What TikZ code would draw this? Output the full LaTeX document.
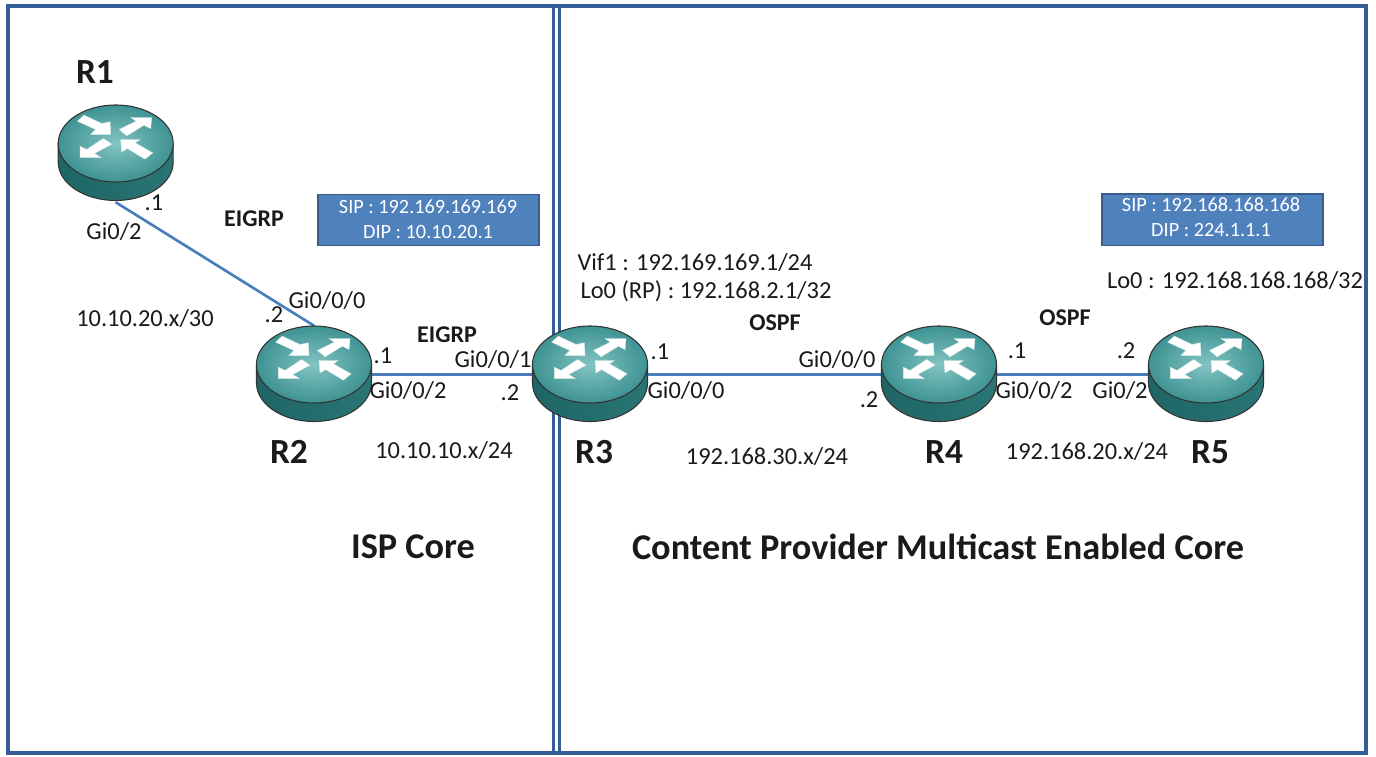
\documentclass[tikz,border=0pt]{standalone}
\usepackage{fontspec}
\setmainfont{Carlito}
\definecolor{framec}{HTML}{335F96}
\definecolor{linkc}{HTML}{4A7EBB}
\definecolor{boxf}{HTML}{4F81BD}
\definecolor{boxd}{HTML}{385D8A}
\definecolor{sidea}{HTML}{1F6565}
\definecolor{sideb}{HTML}{2E8585}
\definecolor{sidec}{HTML}{2A7575}
\definecolor{topa}{HTML}{82C4C2}
\definecolor{topb}{HTML}{3F9393}
\definecolor{txt}{HTML}{1A1A1A}
\tikzset{
  x=0.75pt,y=-0.75pt,
  lbl/.style={inner sep=0pt,font=\fontsize{18.3pt}{21pt}\selectfont,text=txt},
  blbl/.style={inner sep=0pt,font=\fontsize{18pt}{21pt}\selectfont\bfseries,text=txt},
  rname/.style={inner sep=0pt,font=\fontsize{26.5pt}{30pt}\selectfont\bfseries,text=txt},
  title/.style={inner sep=0pt,font=\fontsize{27.2pt}{30pt}\selectfont\bfseries,text=txt},
  infobox/.style={draw=boxd,line width=1pt,fill=boxf,minimum width=165.75pt,minimum height=38.5pt,inner sep=0pt},
  boxtext/.style={inner sep=0pt,font=\fontsize{15.2pt}{18pt}\selectfont,text=white},
  routerbox/.style={minimum width=86.25pt,minimum height=72.75pt,inner sep=0pt},
  link/.style={draw=linkc,line width=2pt},
  routerarrow/.style={fill=white,draw=white!85!teal,line width=0.3pt},
  routericon/.pic={
    \shade[draw=black!80,line width=0.8pt,left color=sidea,middle color=sideb,right color=sidec]
      (-57.5,0) -- (-57.5,18.5) arc[start angle=180,end angle=360,x radius=43.125pt,y radius=28.875pt] -- (57.5,0) -- cycle;
    \shade[draw=black!80,line width=0.8pt,inner color=topa,outer color=topb]
      (0,0) ellipse[x radius=43.125pt,y radius=28.875pt];
    \begin{scope}[shift={(-115.67,-103.33)},x=0.25pt,y=-0.25pt]
      \path[routerarrow] (232,243)--(252,225)--(305,250)--(330,245)--(332,283)--(272,283)--(287,268)--cycle;
      \path[routerarrow] (358,268)--(408,243)--(392,232)--(455,232)--(452,265)--(432,255)--(380,287)--cycle;
      \path[routerarrow] (335,312)--(283,340)--(303,352)--(240,352)--(240,318)--(260,328)--(310,295)--cycle;
      \path[routerarrow] (362,298)--(420,298)--(405,308)--(458,338)--(435,357)--(382,325)--(365,335)--cycle;
    \end{scope}
  }
}
\begin{document}
\begin{tikzpicture}
\useasboundingbox (0,0) rectangle (1376,756);
% frame
\coordinate (fa) at (8,6); \coordinate (fb) at (1366,753);
\draw[framec,line width=2.6pt] (fa) rectangle (fb);
\coordinate (da) at (553.5,6); \coordinate (db) at (553.5,753);
\coordinate (dc) at (559.5,6); \coordinate (dd) at (559.5,753);
\draw[framec,line width=2.4pt] (da) -- (db);
\draw[framec,line width=2.4pt] (dc) -- (dd);
% router anchors
\node[routerbox] (r1) at (115.7,153.5) {};
\node[routerbox] (r2) at (314,374.5) {};
\node[routerbox] (r3) at (590,374.5) {};
\node[routerbox] (r4) at (939,374.5) {};
\node[routerbox] (r5) at (1206,374.5) {};
% links
\draw[link] (r1.south) -- (r2.north);
\draw[link] (r2.east) -- (r3.west);
\draw[link] (r3.east) -- (r4.west);
\draw[link] (r4.east) -- (r5.west);
% icons
\pic at (115.7,143.5) {routericon};
\pic at (314,364.5) {routericon};
\pic at (590,364.5) {routericon};
\pic at (939,364.5) {routericon};
\pic at (1206,364.5) {routericon};
% names
\node[rname] (n1) at (95,72) {R1};
\node[rname] (n2) at (289,452) {R2};
\node[rname] (n3) at (594,452) {R3};
\node[rname] (n4) at (944,452) {R4};
\node[rname] (n5) at (1210,452) {R5};
% boxes
\node[infobox] (b1) at (428.5,220) {};
\node[boxtext] (b1a) at (428,207) {SIP : 192.169.169.169};
\node[boxtext] (b1b) at (428,232) {DIP : 10.10.20.1};
\node[infobox] (b2) at (1212.5,219.5) {};
\node[boxtext] (b2a) at (1211,205) {SIP : 192.168.168.168};
\node[boxtext] (b2b) at (1211,230) {DIP : 224.1.1.1};
% labels
\node[lbl] (t1) at (154,203) {.1};
\node[lbl] (t2) at (114,232) {Gi0/2};
\node[blbl] (t3) at (254,219) {EIGRP};
\node[lbl] (t4) at (145,319) {10.10.20.x/30};
\node[lbl] (t5) at (274,315) {.2};
\node[lbl] (t6) at (327,301) {Gi0/0/0};
\node[lbl] (t7) at (383,356) {.1};
\node[blbl] (t8) at (447,335) {EIGRP};
\node[lbl] (t9) at (493,360) {Gi0/0/1};
\node[lbl] (t10) at (408,391) {Gi0/0/2};
\node[lbl] (t11) at (510,393) {.2};
\node[lbl] (t12) at (444,451) {10.10.10.x/24};
\node[lbl] (t13) at (695,263) {Vif1 : 192.169.169.1/24};
\node[lbl] (t14) at (706,291) {Lo0 (RP) : 192.168.2.1/32};
\node[lbl] (t15) at (660,352) {.1};
\node[lbl] (t16) at (686,391) {Gi0/0/0};
\node[blbl] (t17) at (775,323) {OSPF};
\node[lbl] (t18) at (837,360) {Gi0/0/0};
\node[lbl] (t19) at (869,400) {.2};
\node[lbl] (t20) at (767,457) {192.168.30.x/24};
\node[lbl] (t21) at (1017,351) {.1};
\node[lbl] (t22) at (1034,391) {Gi0/0/2};
\node[blbl] (t23) at (1065,318) {OSPF};
\node[lbl] (t24) at (1126,351) {.2};
\node[lbl] (t25) at (1120,391) {Gi0/2};
\node[lbl] (t26) at (1087,452) {192.168.20.x/24};
\node[lbl] (t27) at (1235,281) {Lo0 : 192.168.168.168/32};
\node[title] (c1) at (413,547) {ISP Core};
\node[title] (c2) at (938,547) {Content Provider Multicast Enabled Core};
\end{tikzpicture}
\end{document}
